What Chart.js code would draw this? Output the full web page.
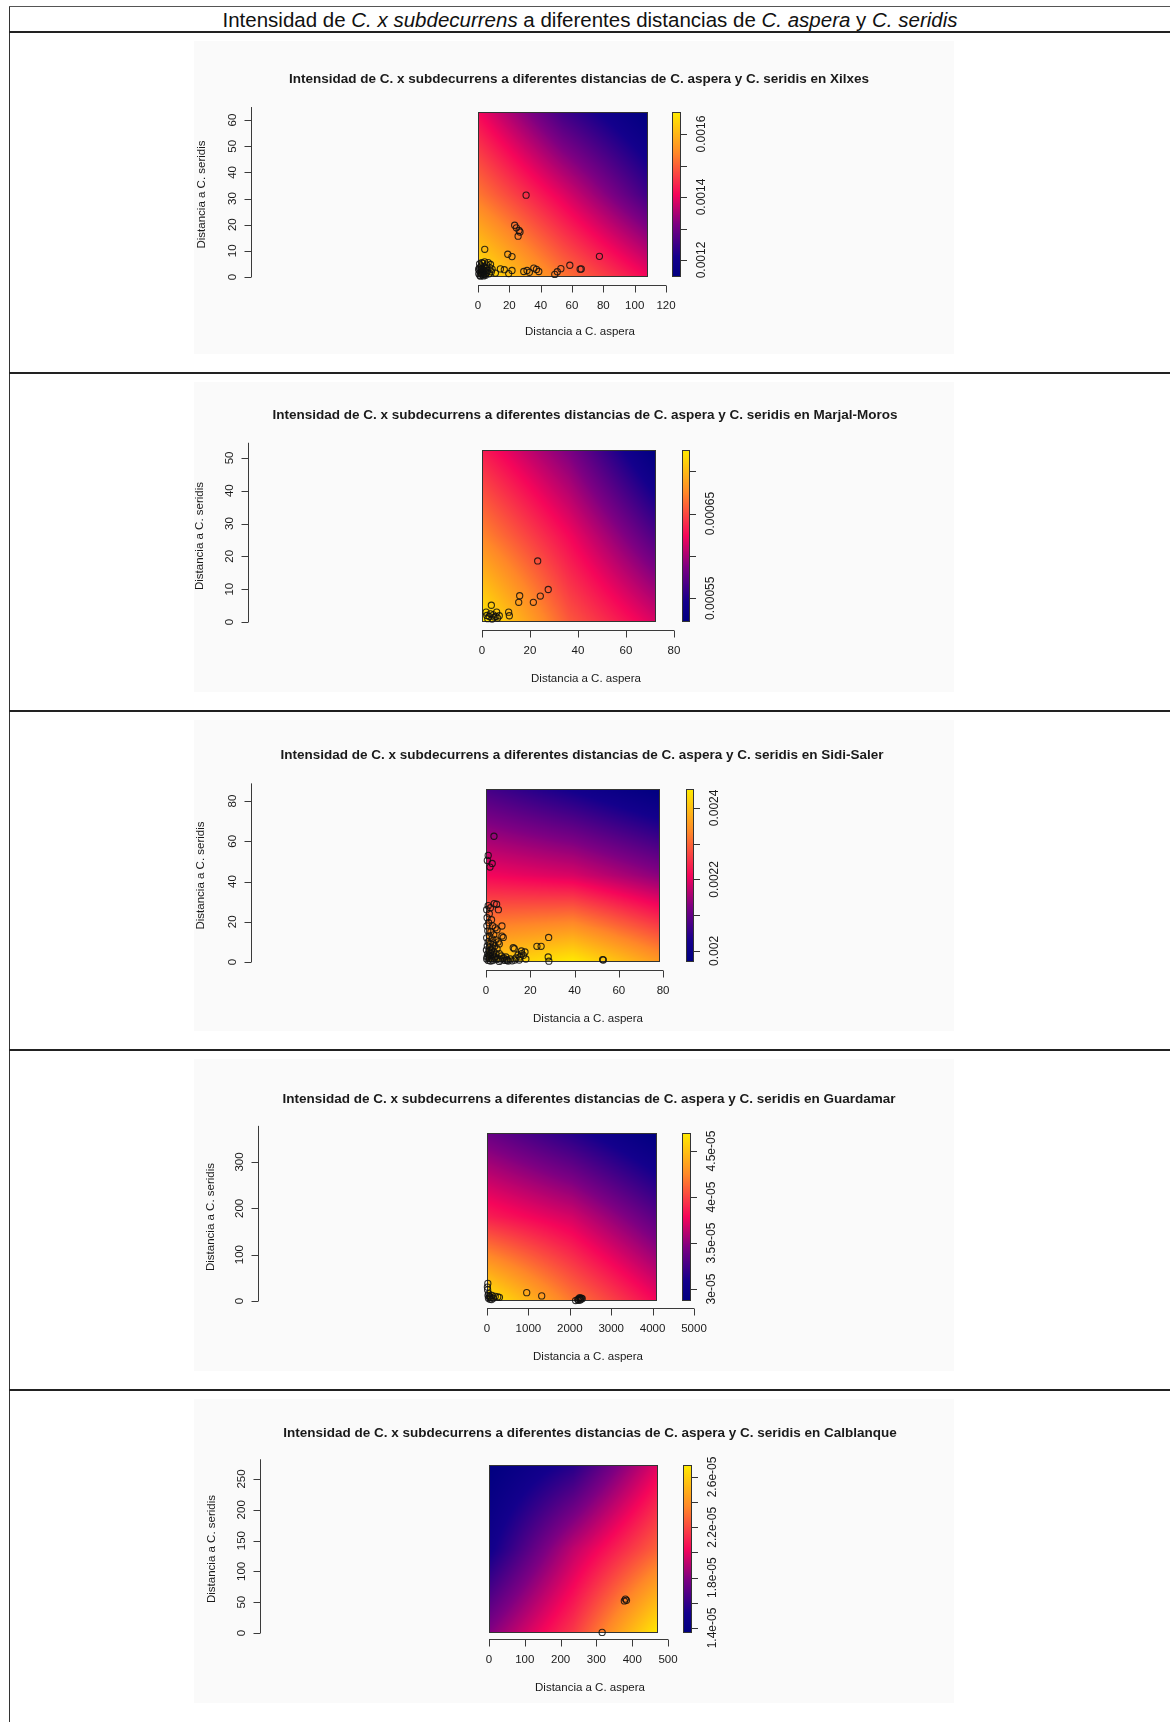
<!DOCTYPE html>
<html>
<head>
<meta charset="utf-8">
<script src="https://cdn.jsdelivr.net/npm/chart.js@4.4.1/dist/chart.umd.min.js"></script>
<style>
  html, body { margin:0; padding:0; background:#fff; }
  #page { position:relative; width:1170px; height:1722px; overflow:hidden; font-family:"Liberation Sans", Arial, sans-serif; }
  .hl { position:absolute; left:9px; right:0; height:0; }
  .vl { position:absolute; left:9px; top:7px; bottom:0; border-left:1px solid #333; }
  #head { position:absolute; left:10px; right:0; top:7px; height:25px; line-height:25px; text-align:center; font-size:20.5px; color:#111; }
  canvas.panel { position:absolute; left:10px; }
</style>
</head>
<body>
<div id="page">
  <div id="head">Intensidad de <i>C. x subdecurrens</i> a diferentes distancias de <i>C. aspera</i> y <i>C. seridis</i></div>
</div>
<script>
// ---- data --------------------------------------------------------------
var sites = ['Xilxes', 'Marjal-Moros', 'Sidi-Saler', 'Guardamar', 'Calblanque'];
var titlePrefix = 'Intensidad de C. x subdecurrens a diferentes distancias de C. aspera y C. seridis en ';
var xLabel = 'Distancia a C. aspera';
var yLabel = 'Distancia a C. seridis';

// observed plants (distance to C. aspera, distance to C. seridis)
var ptsXilxes = [[0.5,1.2],[0.8,2.5],[1,3.5],[1.2,0.6],[1.5,1.8],[1.8,2.9],[2,4.2],[2.2,1.1],[2.5,2.2],[2.7,3.3],
  [3,0.8],[3,5.2],[3.3,1.6],[3.5,2.7],[3.8,4.1],[4,1],[4.2,5.8],[4.5,2.2],[5,3.3],[5.2,1.4],[5.5,4.6],[6,2.5],
  [6.5,5.5],[7,1.2],[7.5,3.6],[8,4.8],[8.5,2],[9,3],[1,5],[2.4,5.5],[3.6,0.4],[1.6,0.3],[0.4,3],[2.9,1.9],[4.8,0.7],
  [5.8,1.9],[11.1,1.5],[14.3,3.1],[16.8,2.8],[19.6,1.3],[21.7,2.5],[4.3,10.6],[19,8.7],[21.7,7.8],[23.4,19.8],
  [24.5,18.8],[26.2,17.8],[26.8,17.2],[25.6,15.6],[30.7,31.3],[29.2,2.1],[31.3,2.5],[32.8,1.8],[35.6,3.4],[37.3,2.9],
  [38.8,2.1],[49,1],[50.6,2],[52.9,3.2],[58.6,4.5],[65.2,3],[65.9,3.1],[77.5,7.9]];
var ptsMarjal = [[23.2,18.6],[27.6,9.9],[24.3,7.9],[21.4,6.0],[15.7,8.0],[15.3,6.0],[11.1,3.0],[11.4,1.9],[3.9,5.1],
  [1.7,3.0],[3,1.7],[4.7,2.2],[6.1,3.0],[7.2,1.9],[5.1,1.5],[2.4,1.0],[4.2,0.9],[5.8,1.7],[6.5,1.2],[3.5,2.5],[2,2]];
var ptsSidi = [[3.6,62.5],[1.0,53],[0.6,50.5],[2.8,49],[1.8,47.2],[3.7,29],[4.8,28.7],[1,28],[2,27],[5.6,26],[0.3,26],
  [1.5,24],[0.5,22],[2.5,21],[1.2,19.5],[0.4,18],[3,18],[7.2,17.9],[4.2,17],[5,16],[0.8,15.5],[2.2,15],[1.5,13],
  [3.5,13.5],[7.2,12.9],[7.8,12.2],[0.3,12],[2.7,11.5],[4.5,11],[1,10],[2,9],[3.2,9.5],[5.5,10],[0.6,8],[1.8,7.5],
  [3,7],[4,8],[6,9],[0.2,6],[1.3,5.5],[2.4,6],[3.6,5],[5,6.5],[0.8,4],[2,4.5],[3,3.5],[4.5,4],[6,4.2],[7,3],[8,2],
  [0.5,2.5],[1.5,2],[2.5,1.5],[3.5,2],[4.5,1.2],[5.5,1.8],[6.5,1],[7.5,1.5],[8.5,0.8],[9.5,1.2],[10,0.5],[11,1.5],
  [1,0.8],[2,0.5],[3,0.7],[12.3,7.1],[12.8,6.6],[23,7.8],[24.9,7.8],[28.3,12.2],[16.1,4.1],[15.3,2.5],[16.9,3.3],
  [17.6,5],[16,5.5],[15,1],[18,1.5],[28.1,2.5],[28.4,0.4],[52.7,1.2],[53,1.0],[13,1],[9,2.5],[6,0.3],[0.3,1.5],
  [2.2,3],[4,2.6],[1.2,3.2],[13.5,2],[14.5,3.5],[9.5,0.8],[11.8,0.6]];
var ptsGuardamar = [[20,38],[10,30],[15,24],[40,16],[25,12],[60,10],[90,8],[120,12],[150,6],[200,10],[260,9],[300,8],
  [70,4],[35,6],[110,3],[959,18],[1321,11],[2140,1],[2190,3],[2220,5],[2240,7],[2260,4],[2280,6],[2300,5],[2250,2],[2210,1.5]];
var ptsCalblanque = [[378,52],[381,55],[384,53],[316,1]];

// extent of the intensity surface (x max, y max)
var xMax = [108.5, 72.5, 78.6, 4106, 472];
var yMax = [63.1, 52.4, 86.0, 362.6, 272.7];

// intensity surface sampled on a coarse grid: rows from y=0 up to y max, columns from x=0 to x max
var gridXilxes = [[0.001670,0.001523,0.001408],[0.001523,0.001392,0.001251],[0.001408,0.001251,0.001146]];
var gridMarjal = [[0.000725,0.000656,0.000615],[0.000674,0.000624,0.000568],[0.000632,0.000586,0.000522]];
var gridSidi = [[0.002410,0.002453,0.002355],[0.002211,0.002190,0.002133],[0.002071,0.002022,0.001969]];
var gridGuardamar = [[4.696e-5,4.185e-5,3.783e-5],[3.874e-5,3.692e-5,3.327e-5],[3.381e-5,3.144e-5,2.870e-5]];
var gridCalblanque = [[1.801e-5,2.161e-5,2.695e-5],[1.494e-5,1.921e-5,2.268e-5],[1.360e-5,1.560e-5,1.988e-5]];

// colour scale range
var zMin = [0.001146, 0.000522, 0.001969, 2.870e-5, 1.360e-5];
var zMax = [0.001670, 0.000725, 0.002453, 4.696e-5, 2.695e-5];

// axis ticks
var xTicks = [[0,20,40,60,80,100,120],[0,20,40,60,80],[0,20,40,60,80],[0,1000,2000,3000,4000,5000],[0,100,200,300,400,500]];
var yTicks = [[0,10,20,30,40,50,60],[0,10,20,30,40,50],[0,20,40,60,80],[0,100,200,300],[0,50,100,150,200,250]];
var yAxisTop = [65, 54.6, 88.8, 378, 282];
var zTicks = [[0.0012,0.0013,0.0014,0.0015,0.0016],[0.00055,0.0006,0.00065,0.0007],[0.002,0.0021,0.0022,0.0023,0.0024],
  [3e-5,3.5e-5,4e-5,4.5e-5],[1.4e-5,1.6e-5,1.8e-5,2.0e-5,2.2e-5,2.4e-5,2.6e-5]];
var zTickLabels = [['0.0012','','0.0014','','0.0016'],['0.00055','','0.00065',''],['0.002','','0.0022','','0.0024'],
  ['3e-05','3.5e-05','4e-05','4.5e-05'],['1.4e-05','','1.8e-05','','2.2e-05','','2.6e-05']];

// colour ramp: navy -> purple -> deep pink -> orange -> yellow
var rampAt = [0, 0.12, 0.32, 0.5, 0.75, 1];
var ramp = [[0,0,128],[20,0,140],[125,0,130],[245,5,90],[255,135,40],[255,235,0]];

// ---- layout (page pixels) -------------------------------------------------
var rowTop = [32, 373, 711, 1050, 1390, 1722];
var lay = [
  {titleX:579, titleY:79,  L:478, R:648, T:112,  B:277,  yAxisX:251,   yTitX:202, xAxisY:285,  xTitX:580, xTitY:332,  cbL:672, cbR:681},
  {titleX:585, titleY:415, L:482, R:656, T:450,  B:622,  yAxisX:248,   yTitX:200, xAxisY:630,  xTitX:586, xTitY:679,  cbL:682, cbR:690},
  {titleX:582, titleY:755, L:486, R:660, T:789,  B:962,  yAxisX:251,   yTitX:201, xAxisY:970,  xTitX:588, xTitY:1019, cbL:686, cbR:694},
  {titleX:589, titleY:1099,L:487, R:657, T:1133, B:1301, yAxisX:257.5, yTitX:211, xAxisY:1308, xTitX:588, xTitY:1357, cbL:682, cbR:691},
  {titleX:590, titleY:1433,L:489, R:658, T:1465, B:1633, yAxisX:260,   yTitX:212, xAxisY:1639, xTitX:590, xTitY:1688, cbL:683, cbR:692}
];
var points = [ptsXilxes, ptsMarjal, ptsSidi, ptsGuardamar, ptsCalblanque];
var grids = [gridXilxes, gridMarjal, gridSidi, gridGuardamar, gridCalblanque];

function rampColor(t){
  t = Math.max(0, Math.min(1, t));
  var i = 0; while (i < rampAt.length-2 && t > rampAt[i+1]) i++;
  var f = (t-rampAt[i])/(rampAt[i+1]-rampAt[i]), a = ramp[i], b = ramp[i+1];
  return [a[0]+(b[0]-a[0])*f, a[1]+(b[1]-a[1])*f, a[2]+(b[2]-a[2])*f];
}
function fieldAt(g, fx, fy){
  // fx, fy in 0..1 over the surface
  var nx = g[0].length-1, ny = g.length-1;
  var sx = Math.max(0, Math.min(nx, fx*nx)), sy = Math.max(0, Math.min(ny, fy*ny));
  var i = Math.min(nx-1, Math.floor(sx)), j = Math.min(ny-1, Math.floor(sy));
  var u = sx-i, v = sy-j;
  return g[j][i]*(1-u)*(1-v) + g[j][i+1]*u*(1-v) + g[j+1][i]*(1-u)*v + g[j+1][i+1]*u*v;
}
function txt(ctx, s, x, y, font, rot){
  ctx.save(); ctx.translate(x, y); if(rot) ctx.rotate(-Math.PI/2);
  ctx.font = font; ctx.textAlign = 'center'; ctx.textBaseline = 'middle'; ctx.fillStyle = '#1a1a1a';
  ctx.fillText(s, 0, 0); ctx.restore();
}

var rPlot = {
  id: 'rplot',
  beforeDatasetsDraw: function(chart){
    var k = +chart.canvas.dataset.idx, ctx = chart.ctx;
    var xs = chart.scales.x, ys = chart.scales.y, zs = chart.scales.z;
    // faint background of the embedded plot image
    ctx.fillStyle = '#fafafa';
    ctx.fillRect(184, 8, 760, chart.height-26);
    var L = Math.round(xs.getPixelForValue(0)), R = Math.round(xs.getPixelForValue(xMax[k]));
    var T = Math.round(ys.getPixelForValue(yMax[k])), B = Math.round(ys.getPixelForValue(0));
    var w = R-L, h = B-T, img = ctx.createImageData(w, h), g = grids[k];
    for (var j=0; j<h; j++){
      var yv = ys.getValueForPixel(T+j+0.5);
      for (var i=0; i<w; i++){
        var xv = xs.getValueForPixel(L+i+0.5);
        var v = fieldAt(g, xv/xMax[k], yv/yMax[k]);
        var c = rampColor((v-zs.min)/(zs.max-zs.min)), p = (j*w+i)*4;
        img.data[p]=c[0]; img.data[p+1]=c[1]; img.data[p+2]=c[2]; img.data[p+3]=255;
      }
    }
    ctx.putImageData(img, L, T);
    ctx.strokeStyle = '#333'; ctx.lineWidth = 1;
    ctx.strokeRect(L+0.5, T+0.5, w-1, h-1);
  },
  afterDatasetsDraw: function(chart){
    var k = +chart.canvas.dataset.idx, ctx = chart.ctx, o = lay[k];
    var ox = 10, oy = rowTop[k]+1;
    var xs = chart.scales.x, ys = chart.scales.y, zs = chart.scales.z;
    var tickFont = '11.5px "Liberation Sans", Arial, sans-serif';
    txt(ctx, titlePrefix + sites[k], o.titleX-ox, o.titleY-oy, 'bold 13.5px "Liberation Sans", Arial, sans-serif');

    ctx.strokeStyle = '#3a3a3a'; ctx.lineWidth = 1;
    // x axis, offset below the surface
    var ay = Math.round(o.xAxisY-oy)+0.5, xt = xTicks[k];
    ctx.beginPath();
    ctx.moveTo(xs.getPixelForValue(xt[0]), ay); ctx.lineTo(xs.getPixelForValue(xt[xt.length-1]), ay);
    xt.forEach(function(v){ var px = Math.round(xs.getPixelForValue(v))+0.5; ctx.moveTo(px, ay); ctx.lineTo(px, ay+7); });
    ctx.stroke();
    xt.forEach(function(v){ txt(ctx, String(v), xs.getPixelForValue(v), ay+20, tickFont); });
    txt(ctx, xLabel, o.xTitX-ox, o.xTitY-oy, tickFont);

    // y axis, detached on the far left
    var ax = Math.round(o.yAxisX-ox)+0.5, yt = yTicks[k];
    ctx.beginPath();
    ctx.moveTo(ax, ys.getPixelForValue(0)); ctx.lineTo(ax, ys.getPixelForValue(yAxisTop[k]));
    yt.forEach(function(v){ var py = Math.round(ys.getPixelForValue(v))+0.5; ctx.moveTo(ax, py); ctx.lineTo(ax-7, py); });
    ctx.stroke();
    yt.forEach(function(v){ txt(ctx, String(v), ax-19, ys.getPixelForValue(v), tickFont, true); });
    txt(ctx, yLabel, o.yTitX-ox, (ys.getPixelForValue(0)+ys.getPixelForValue(yMax[k]))/2, tickFont, true);

    // colour bar
    var cl = Math.round(o.cbL-ox), cr = Math.round(o.cbR-ox);
    var top = Math.round(zs.getPixelForValue(zs.max)), bot = Math.round(zs.getPixelForValue(zs.min));
    for (var py=top; py<bot; py++){
      var c = rampColor((zs.getValueForPixel(py+0.5)-zs.min)/(zs.max-zs.min));
      ctx.fillStyle = 'rgb('+Math.round(c[0])+','+Math.round(c[1])+','+Math.round(c[2])+')';
      ctx.fillRect(cl, py, cr-cl, 1);
    }
    ctx.strokeStyle = '#333';
    ctx.strokeRect(cl+0.5, top+0.5, cr-cl-1, bot-top-1);
    ctx.beginPath();
    zTicks[k].forEach(function(v){ var p = Math.round(zs.getPixelForValue(v))+0.5; ctx.moveTo(cr, p); ctx.lineTo(cr+6, p); });
    ctx.stroke();
    zTicks[k].forEach(function(v, i){ if(zTickLabels[k][i]) txt(ctx, zTickLabels[k][i], cr+21, zs.getPixelForValue(v), '12px "Liberation Sans", Arial, sans-serif', true); });
  }
};

// ---- table rules and one chart per row ---------------------------------
var page = document.getElementById('page');
function rule(y, wpx, col){ var d = document.createElement('div'); d.className='hl'; d.style.top = y+'px'; d.style.borderTop = wpx+'px solid '+col; page.appendChild(d); }
var vl = document.createElement('div'); vl.className = 'vl'; page.appendChild(vl);
rule(6, 1, '#555');
for (var r=0; r<5; r++) rule(rowTop[r]-1, 2, '#222');

sites.forEach(function(site, k){
  var cv = document.createElement('canvas');
  cv.className = 'panel'; cv.dataset.idx = k;
  var top = rowTop[k]+1, hgt = rowTop[k+1]-rowTop[k]-2;
  cv.width = 1160; cv.height = hgt;
  cv.style.top = top+'px'; cv.style.width = '1160px'; cv.style.height = hgt+'px';
  page.appendChild(cv);
  var o = lay[k];
  new Chart(cv, {
    type: 'scatter',
    data: { datasets: [{
      data: points[k].map(function(p){ return {x:p[0], y:p[1]}; }),
      xAxisID: 'x', yAxisID: 'y', clip: false,
      pointRadius: 3.1, pointHoverRadius: 3.1, pointBorderWidth: 1.1,
      pointBorderColor: 'rgba(15,15,15,0.85)', pointBackgroundColor: 'rgba(0,0,0,0)'
    }]},
    options: {
      responsive: false, animation: false, events: [],
      layout: { autoPadding: false, padding: { left: o.L-10, right: 1170-o.R, top: o.T-top, bottom: top+hgt-o.B } },
      scales: {
        x: { type:'linear', min:0, max:xMax[k], display:false },
        y: { type:'linear', min:0, max:yMax[k], display:false },
        z: { type:'linear', axis:'y', min:zMin[k], max:zMax[k], display:false }
      },
      plugins: { legend:{display:false}, tooltip:{enabled:false}, title:{display:false} }
    },
    plugins: [rPlot]
  });
});
</script>
</body>
</html>
